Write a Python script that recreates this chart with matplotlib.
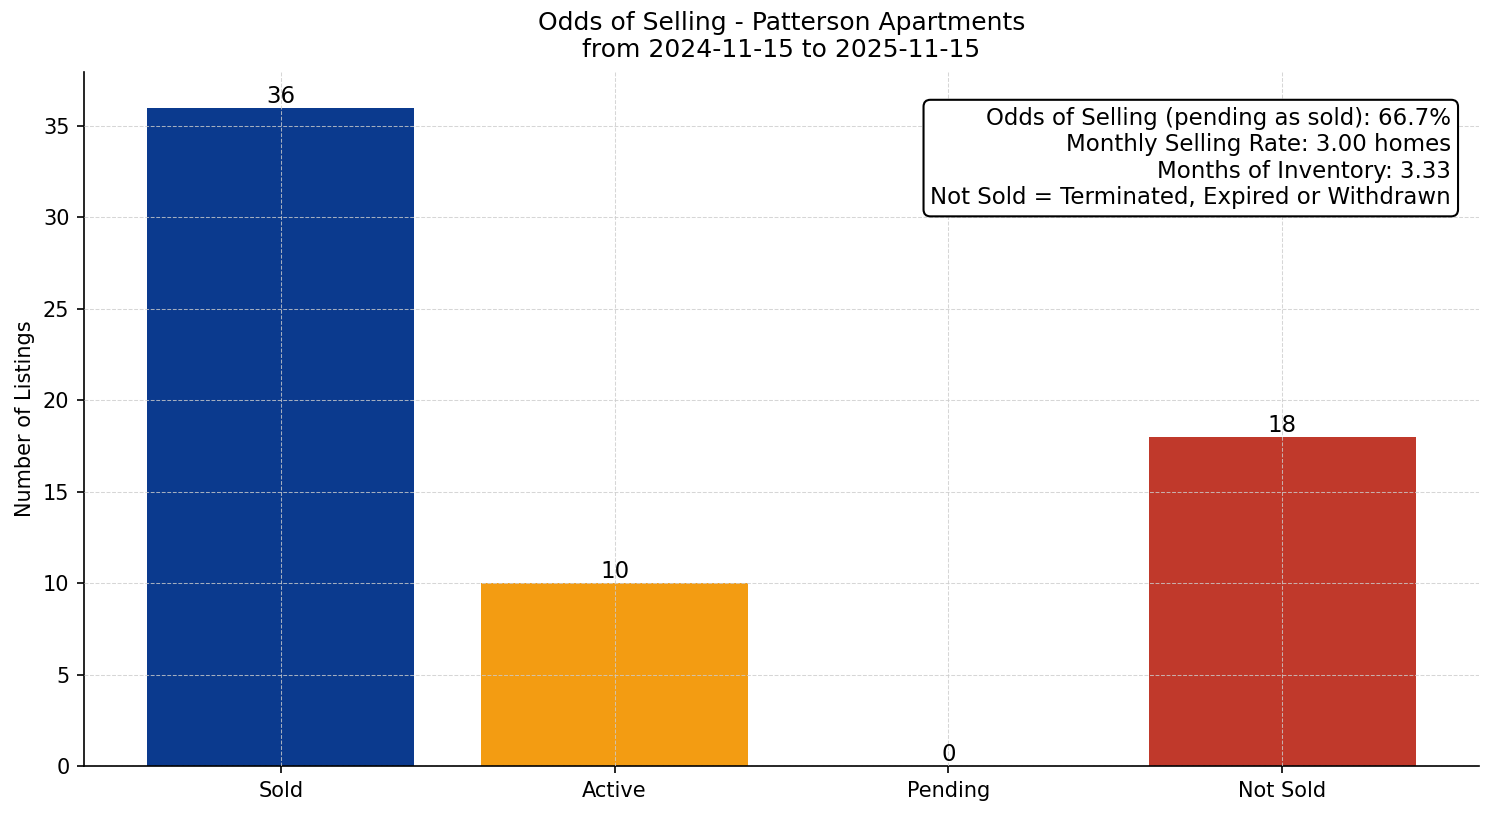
import matplotlib
matplotlib.use('agg')
import matplotlib.pyplot as plt

categories = ['Sold', 'Active', 'Pending', 'Not Sold']
counts = [36, 10, 0, 18]
colors = ['#0B3A8E', '#F39C12', '#7F8C8D', '#C0392B']

title = 'Odds of Selling - Patterson Apartments\nfrom 2024-11-15 to 2025-11-15'
info_lines = ['Odds of Selling (pending as sold): 66.7%',
              'Monthly Selling Rate: 3.00 homes',
              'Months of Inventory: 3.33',
              'Not Sold = Terminated, Expired or Withdrawn']

fig, ax = plt.subplots(figsize=(9.96, 5.44), dpi=150)
bars = ax.bar(categories, counts, color=colors, width=0.8)
for b, v in zip(bars, counts):
    ax.text(b.get_x() + b.get_width() / 2, b.get_height(), str(v),
            ha='center', va='bottom', fontsize=11)

ax.set_title(title, fontsize=12, pad=7)
ax.set_ylabel('Number of Listings', fontsize=10)
ax.tick_params(labelsize=10)
ax.set_ylim(0, 37.95)
ax.grid(True, linestyle='--', color='#cccccc', alpha=0.8, linewidth=0.5)
ax.set_axisbelow(False)
for s in ['top', 'right']:
    ax.spines[s].set_visible(False)

ax.text(0.98, 0.95, '\n'.join(info_lines), transform=ax.transAxes,
        ha='right', va='top', fontsize=11,
        bbox=dict(boxstyle='round,pad=0.3', facecolor='white', edgecolor='black'))

plt.subplots_adjust(left=0.0562, right=0.990, top=0.9118, bottom=0.0613)
plt.savefig('out.png', dpi=150)
